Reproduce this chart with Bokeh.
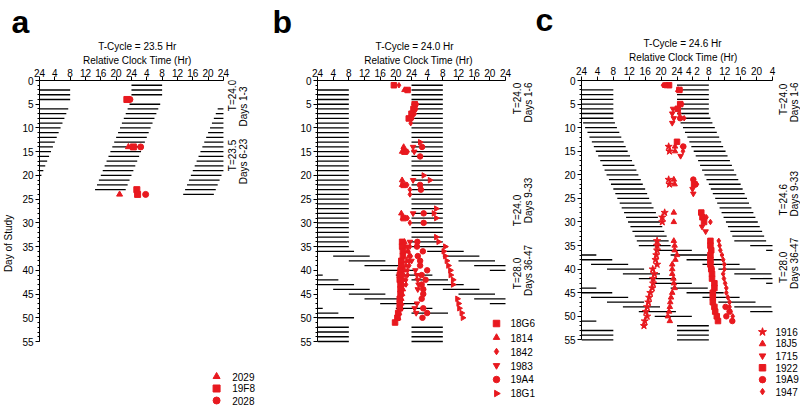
import math
from bokeh.plotting import figure
from bokeh.layouts import row
from bokeh.models import Label, FixedTicker, Range1d, LinearAxis
from bokeh.embed import file_html
from bokeh.resources import INLINE

RED = "#E8191F"
FONT = "Liberation Sans"

X_TICKS = [0, 4, 8, 12, 16, 20, 24, 28, 32, 36, 40, 44, 48]
X_LABELS_AB = ["24", "4", "8", "12", "16", "20", "24", "4", "8", "12", "16", "20", "24"]
X_LABELS_C = ["24", "4", "8", "12", "16", "20", "24", "4 2", "8", "12", "16", "20", "4"]
Y_MAJOR = [0, 5, 10, 15, 20, 25, 30, 35, 40, 45, 50, 55]
Y_MINOR = list(range(0, 56))

# ---- dark episodes: day, onset (clock h rel. to that day's midnight), duration ----
A_EP_DAY = [2, 3, 4, 6, 7, 8, 9, 10, 11, 12, 13, 14, 15, 16, 17, 18, 19, 20, 21, 22, 23, 24, 25, 26]
A_EP_ON = [0.0, 0.0, 0.0, -0.5, -1.0, -1.5, -2.0, -2.5, -3.0, -3.5, -4.0, -4.5, -5.0, -5.5,
           -6.0, -6.5, -7.0, -7.5, -8.0, -8.5, -9.0, -9.5, -10.0, -10.5]
A_EP_DUR = [8.0] * 24
# pieces not drawn: (day, k) with k = 0 own row, 1 row above, 2 two rows above
A_HIDE = [(6, 2), (7, 2), (25, 1), (26, 1)]

B_EP_DAY = list(range(2, 36)) + [36, 37, 38, 39, 40, 41, 43, 44, 45, 46, 47, 48, 50] + [52, 53, 54, 55, 56]
B_EP_ON = [0.0] * 34 + [0, 4, 8, 12, 16, 20, 0, 4, 8, 12, 16, 20, 0] + [0.0] * 5
B_EP_DUR = [8.0] * 34 + [9.33] * 13 + [8.0] * 5
B_HIDE = [(52, 1)]

C_EP_DAY = list(range(2, 9)) + list(range(9, 36)) + [36, 37, 39, 40, 41, 42, 43, 44, 46, 47, 48, 49, 50] + [53, 54, 55, 56]
C_EP_ON = ([0.0] * 7 +
           [0.4, 0.9, 1.5, 2.0, 2.6, 3.1, 3.6, 4.2, 4.7, 5.3, 5.8, 6.3, 6.9, 7.4, 8.0, 8.5, 9.0,
            9.6, 10.1, 10.7, 11.2, 11.7, 12.3, 12.8, 13.4, 13.9, 14.4] +
           [18.4, 22.4, 2.4, 6.4, 10.4, 14.4, 18.4, 22.4, 2.4, 6.4, 10.4, 14.4, 18.4] +
           [0.0] * 4)
C_EP_DUR = [8.0] * 34 + [9.33] * 13 + [8.0] * 4
C_HIDE = []

# ---- marker series (day, relative clock hour on the 0-48 axis) ----
A_SERIES = [
    ("2029", "triangle", [14, 24], [23.2, 20.9]),
    ("19F8", "square", [4, 14, 23, 24], [22.8, 24.5, 25.4, 25.6]),
    ("2028", "circle", [4, 14, 24], [23.6, 26.4, 27.7]),
]

B_SERIES = [
    ("18G6", "square",
     [1, 2, 5, 6, 7, 8, 15, 22, 29, 34, 35, 36, 37, 38, 39, 40, 41, 42, 43, 44, 45, 46, 47, 48, 49, 50, 51],
     [19.5, 23.0, 24.8, 24.5, 24.0, 23.3, 22.2, 22.0, 22.0, 21.6, 21.6, 21.8, 21.8, 21.4, 21.4, 21.2,
      21.0, 21.0, 21.2, 21.2, 21.2, 21.0, 21.0, 21.0, 20.6, 20.4, 19.8]),
    ("1814", "triangle",
     [2, 14, 15, 21, 22, 28, 29, 34, 35, 36, 37, 38, 39, 40, 41, 42, 43, 44, 45, 46, 47, 48, 49, 50],
     [22.2, 22.0, 21.6, 21.6, 21.6, 21.4, 21.8, 22.2, 22.4, 23.0, 23.4, 22.8, 22.6, 22.2, 22.0, 22.0,
      21.8, 21.8, 21.6, 21.4, 21.4, 21.2, 20.8, 20.6]),
    ("1842", "diamond",
     [1, 2, 5, 6, 7, 8, 9, 15, 22, 23, 24, 29, 30, 35, 36, 37, 38, 39, 40, 41, 42, 43],
     [20.8, 22.8, 25.4, 25.2, 24.8, 24.2, 23.8, 23.0, 22.9, 23.6, 23.6, 23.0, 23.6, 23.6, 23.2, 23.8,
      23.4, 23.4, 23.0, 23.0, 22.6, 22.6]),
    ("1983", "inverted_triangle",
     [14, 15, 21, 28, 34, 35, 38, 40, 41, 42, 43, 44, 47, 48, 49],
     [24.4, 24.7, 24.4, 24.4, 23.6, 23.0, 24.0, 25.0, 25.4, 25.6, 25.8, 25.6, 25.4, 24.8, 25.2]),
    ("19A4", "circle",
     [14, 16, 22, 23, 28, 30, 34, 35, 36, 37, 38, 39, 40, 41, 42, 43, 44, 45, 46, 48, 49, 50],
     [26.7, 26.2, 26.2, 26.4, 27.1, 27.1, 25.5, 25.4, 26.9, 25.6, 26.2, 26.2, 28.0, 26.6, 27.6, 26.6,
      27.0, 27.0, 26.6, 27.0, 28.0, 26.8]),
    ("18G1", "right",
     [13, 20, 21, 27, 28, 29, 33, 34, 35, 36, 37, 38, 39, 40, 41, 42, 43, 46, 47, 48, 49, 50],
     [26.2, 27.1, 28.7, 30.3, 29.7, 30.3, 30.3, 30.9, 32.6, 32.2, 32.6, 33.0, 33.4, 33.9, 34.0, 34.6,
      34.6, 35.7, 36.0, 36.2, 36.8, 37.1]),
]

C_SERIES = [
    ("1916", "star",
     [14, 15, 21, 22, 28, 29, 30, 34, 35, 36, 37, 38, 39, 40, 41, 42, 43, 44, 45, 46, 47, 48, 49, 50, 51, 52],
     [21.9, 22.1, 21.9, 22.1, 20.9, 20.3, 20.3, 19.0, 19.0, 19.0, 18.8, 18.6, 19.0, 17.9, 18.3, 18.0,
      18.0, 17.8, 17.3, 17.0, 16.8, 16.5, 16.2, 16.5, 15.9, 15.7]),
    ("18J5", "triangle",
     [1, 2, 14, 15, 21, 22, 28, 30, 34, 35, 36, 37, 38, 39, 40, 41, 42, 43, 44, 45, 46, 47, 48, 49, 50, 51],
     [21.5, 24.3, 23.5, 23.5, 23.2, 23.4, 23.2, 23.2, 23.2, 23.4, 23.4, 24.0, 23.6, 22.8, 22.8, 22.8,
      23.1, 23.2, 23.4, 22.8, 22.5, 22.3, 22.2, 22.0, 21.7, 22.2]),
    ("1715", "inverted_triangle",
     [6, 7, 8, 9, 16, 23, 24, 31, 32],
     [23.0, 22.8, 23.2, 22.8, 24.9, 27.9, 28.1, 30.3, 31.2]),
    ("1922", "square",
     [1, 2, 5, 6, 13, 22, 28, 29, 30, 34, 35, 36, 37, 38, 39, 40, 41, 42, 43, 44, 45, 46, 47, 48, 49, 50, 51],
     [22.0, 24.6, 24.8, 24.2, 24.0, 28.3, 30.1, 30.4, 30.8, 32.4, 32.4, 32.6, 32.4, 32.4, 32.4, 32.6,
      32.8, 32.8, 33.4, 33.4, 33.0, 33.0, 33.0, 33.4, 33.6, 34.0, 34.3]),
    ("19A9", "circle",
     [1, 8, 14, 21, 22, 40, 48, 49, 50, 51],
     [21.0, 24.8, 25.6, 28.1, 28.6, 32.7, 36.2, 37.2, 36.4, 37.9]),
    ("1947", "diamond",
     [1, 2, 5, 7, 8, 14, 15, 22, 29, 30, 34, 35, 36, 37, 38, 39, 40, 41, 42, 43, 44, 45, 46, 47, 48, 49, 50],
     [20.5, 25.0, 25.3, 24.6, 25.8, 25.3, 25.5, 29.0, 31.4, 32.4, 34.5, 34.7, 34.9, 35.3, 35.6, 35.9,
      35.9, 35.6, 35.8, 36.1, 36.4, 36.4, 36.8, 37.2, 37.2, 37.4, 38.0]),
]

# ---- layout: figure span and pixel positions of hour 0 / 48 and day 0 / 55 ----
H = 406
PANELS = {
    "a": dict(figx=0, w=265, x0=34, x48=222, y0=80, y55=341),
    "b": dict(figx=265, w=270, x0=317, x48=505, y0=80, y55=341),
    "c": dict(figx=535, w=265, x0=581, x48=772, y0=78, y55=339),
}


def px2data(P, px, py):
    return ((px - P["x0"]) * 48.0 / (P["x48"] - P["x0"]),
            (py - P["y0"]) * 55.0 / (P["y55"] - P["y0"]))


def tk(v):
    r = round(v, 1)
    return int(r) if r == int(r) else r


def double_plot(days, ons, durs, hide):
    x0, x1, y = [], [], []
    hidden = set(hide)
    for d, o, du in zip(days, ons, durs):
        a = 24 * d + o
        b = a + du
        for r in range(0, 56):
            if (d, d - r) in hidden:
                continue
            s = max(a - 24 * r, 0.0)
            e = min(b - 24 * r, 48.0)
            if e > s + 0.05:
                x0.append(s)
                x1.append(e)
                y.append(r)
    return x0, x1, y


def marker_spec(marker):
    if marker == "right":
        return "triangle", -math.pi / 2
    return marker, 0.0


def add_text(p, P, px, py, text, size="10px", angle=0.0, align="center"):
    x, y = px2data(P, px, py)
    p.add_layout(Label(x=x, y=y, text=text, angle=angle, text_font=FONT, text_font_size=size,
                       text_align=align, text_baseline="middle", text_color="black"))


def label_axis(p, P, px, text, standoff):
    x, _ = px2data(P, px, 0)
    t = tk(x)
    ax = LinearAxis(ticker=FixedTicker(ticks=[t], minor_ticks=[]), major_label_overrides={t: text},
                    major_tick_out=0, major_tick_in=0, minor_tick_out=0, minor_tick_in=0,
                    axis_line_color=None, major_label_standoff=standoff,
                    major_label_text_font=FONT, major_label_text_font_size="10px",
                    major_label_text_color="black")
    p.add_layout(ax, "above")


def make_panel(key, xlabels, episodes, series, msize, legend_spec, letter, letter_px, titles):
    P = PANELS[key]
    _, ybot = px2data(P, 0, H)
    xright, _ = px2data(P, P["figx"] + P["w"], 0)
    p = figure(width=P["w"], height=H, x_range=Range1d(0, xright), y_range=Range1d(ybot, 0),
               x_axis_location="above", output_backend="svg", toolbar_location=None,
               min_border_left=P["x0"] - P["figx"], min_border_right=0,
               min_border_top=P["y0"], min_border_bottom=0)
    p.outline_line_color = None
    p.grid.visible = False
    p.background_fill_color = "white"
    p.border_fill_color = "white"

    p.title.text = letter
    p.title.text_font = FONT
    p.title.text_font_size = "32px"
    p.title.text_font_style = "bold"
    p.title.text_color = "black"
    p.title.align = "left"
    p.title.offset = letter_px - P["x0"]
    p.title.standoff = -5 if key != "c" else -7

    xa = p.xaxis[0]
    xa.bounds = (0, 48)
    xa.ticker = FixedTicker(ticks=X_TICKS, minor_ticks=[])
    xa.major_label_overrides = {t: lab for t, lab in zip(X_TICKS, xlabels)}
    xa.major_tick_out = 4
    xa.major_tick_in = 0
    xa.major_label_standoff = 0
    xa.major_label_text_font = FONT
    xa.major_label_text_font_size = "10px"
    xa.major_label_text_color = "black"
    xa.axis_line_color = "black"

    ya = p.yaxis[0]
    ya.bounds = (0, 55)
    ya.ticker = FixedTicker(ticks=Y_MAJOR, minor_ticks=Y_MINOR)
    ya.major_tick_out = 4
    ya.major_tick_in = 0
    ya.minor_tick_out = 2
    ya.minor_tick_in = 0
    ya.major_label_standoff = 2
    ya.major_label_text_font = FONT
    ya.major_label_text_font_size = "10px"
    ya.major_label_text_color = "black"

    (t1px, t1), (t2px, t2) = titles
    label_axis(p, P, t2px, t2, 0)
    label_axis(p, P, t1px, t1, 0)

    x0, x1, y = double_plot(*episodes)
    p.segment(x0=x0, y0=y, x1=x1, y1=y, line_color="black", line_width=1.3)

    for name, marker, days, hrs in series:
        mk, ang = marker_spec(marker)
        sz = msize + (2 if marker == "star" else 0)
        p.scatter(x=hrs, y=days, marker=mk, angle=ang, size=sz, fill_color=RED, line_color=RED)

    # key: symbol + name for each series
    first_y, pitch, mx, tx = legend_spec
    for i, (name, marker, _, _) in enumerate(series):
        py = first_y + i * pitch
        kx, ky = px2data(P, mx, py)
        mk, ang = marker_spec(marker)
        sz = msize + 1 + (2 if marker == "star" else 0)
        p.scatter(x=[kx], y=[ky], marker=mk, angle=ang, size=sz, fill_color=RED, line_color=RED)
        add_text(p, P, tx, py, name, align="left")
    return p, P


# ---------------- panel a ----------------
pa, PA = make_panel("a", X_LABELS_AB, (A_EP_DAY, A_EP_ON, A_EP_DUR, A_HIDE), A_SERIES, 6,
                    (376, 12, 215, 231), "a", 6,
                    ((134, "T-Cycle = 23.5 Hr"), (134, "Relative Clock Time (Hr)")))
pa.yaxis[0].axis_label = "Day of Study"
pa.yaxis[0].axis_label_standoff = 5
pa.yaxis[0].axis_label_text_font = FONT
pa.yaxis[0].axis_label_text_font_size = "10px"
pa.yaxis[0].axis_label_text_font_style = "normal"
pa.yaxis[0].axis_label_text_color = "black"
add_text(pa, PA, 231, 95, "T=24.0", angle=math.pi / 2)
add_text(pa, PA, 243, 106, "Days 1-3", angle=math.pi / 2)
add_text(pa, PA, 231, 155, "T=23.5", angle=math.pi / 2)
add_text(pa, PA, 243, 161, "Days 6-23", angle=math.pi / 2)

# ---------------- panel b ----------------
pb, PB = make_panel("b", X_LABELS_AB, (B_EP_DAY, B_EP_ON, B_EP_DUR, B_HIDE), B_SERIES, 5.5,
                    (323, 14, 496, 510), "b", 272,
                    ((414, "T-Cycle = 24.0 Hr"), (418, "Relative Clock Time (Hr)")))
add_text(pb, PB, 517, 98, "T=24.0", angle=math.pi / 2)
add_text(pb, PB, 528, 102, "Days 1-6", angle=math.pi / 2)
add_text(pb, PB, 517, 210, "T=24.0", angle=math.pi / 2)
add_text(pb, PB, 528, 200, "Days 9-33", angle=math.pi / 2)
add_text(pb, PB, 517, 273, "T=28.0", angle=math.pi / 2)
add_text(pb, PB, 528, 270, "Days 36-47", angle=math.pi / 2)

# ---------------- panel c ----------------
pc, PC = make_panel("c", X_LABELS_C, (C_EP_DAY, C_EP_ON, C_EP_DUR, C_HIDE), C_SERIES, 5.5,
                    (331, 12, 762, 775), "c", 535,
                    ((682, "T-Cycle = 24.6 Hr"), (683, "Relative Clock Time (Hr)")))
add_text(pc, PC, 783, 97, "T=24.0", angle=math.pi / 2)
add_text(pc, PC, 794, 100, "Days 1-6", angle=math.pi / 2)
add_text(pc, PC, 783, 198, "T=24.6", angle=math.pi / 2)
add_text(pc, PC, 794, 192, "Days 9-33", angle=math.pi / 2)
add_text(pc, PC, 783, 266, "T=28.0", angle=math.pi / 2)
add_text(pc, PC, 794, 262, "Days 36-47", angle=math.pi / 2)

layout = row(pa, pb, pc)

with open("out.html", "w") as f:
    f.write(file_html(layout, INLINE))
